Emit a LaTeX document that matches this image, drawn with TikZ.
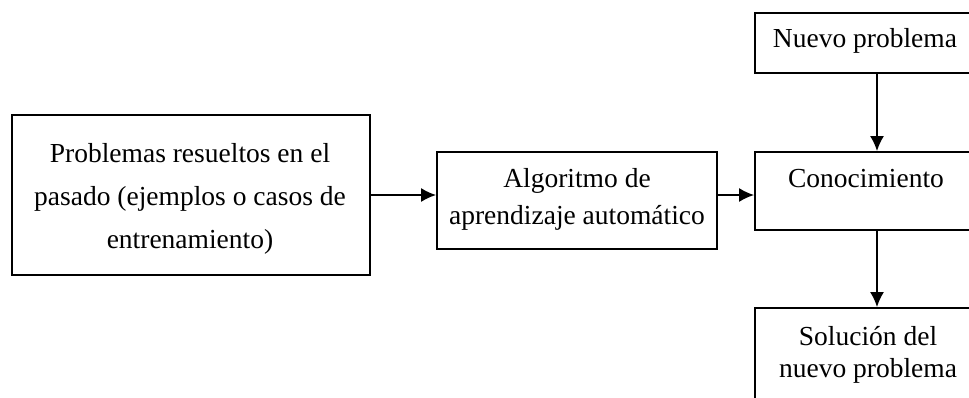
\documentclass[tikz,border=0pt]{standalone}
\usepackage{fontspec}
\setmainfont{Liberation Serif}
\usetikzlibrary{arrows.meta}
\begin{document}
\begin{tikzpicture}[x=1pt,y=-1pt,
  box/.style={draw=black,line width=1.8pt,rectangle,inner sep=0pt},
  txt/.style={anchor=base,inner sep=0pt,font=\fontsize{27.5}{33}\selectfont},
  flow/.style={line width=1.8pt,-{Latex[length=15pt,width=14pt]}}]
\useasboundingbox (0,0) rectangle (969,397);
\clip (0,0) rectangle (969,397);

% boxes
\node[box,minimum width=358pt,minimum height=160pt] (past) at (191,195) {};
\node[box,minimum width=280pt,minimum height=97pt] (algo) at (577,200.5) {};
\node[box,minimum width=222pt,minimum height=60pt] (newp) at (866,43) {};
\node[box,minimum width=222pt,minimum height=78pt] (know) at (866,191) {};
\node[box,minimum width=222pt,minimum height=112pt] (sol) at (866,364) {};

% texts
\node[txt] (t1a) at (190,162) {Problemas resueltos en el};
\node[txt] (t1b) at (190,205) {pasado (ejemplos o casos de};
\node[txt] (t1c) at (190,248) {entrenamiento)};
\node[txt] (t2a) at (577,187) {Algoritmo de};
\node[txt] (t2b) at (577,224) {aprendizaje automático};
\node[txt] (t3) at (865,47) {Nuevo problema};
\node[txt] (t4) at (866,187) {Conocimiento};
\node[txt] (t5a) at (868,345) {Solución del};
\node[txt] (t5b) at (868,377) {nuevo problema};

% connectors
\coordinate (lvl) at (0,195);
\coordinate (col) at (877,0);
\draw[flow] (past.east |- lvl) -- (algo.west |- lvl);
\draw[flow] (algo.east |- lvl) -- (know.west |- lvl);
\draw[flow] (newp.south -| col) -- (know.north -| col);
\draw[flow] (know.south -| col) -- (sol.north -| col);
\end{tikzpicture}
\end{document}
